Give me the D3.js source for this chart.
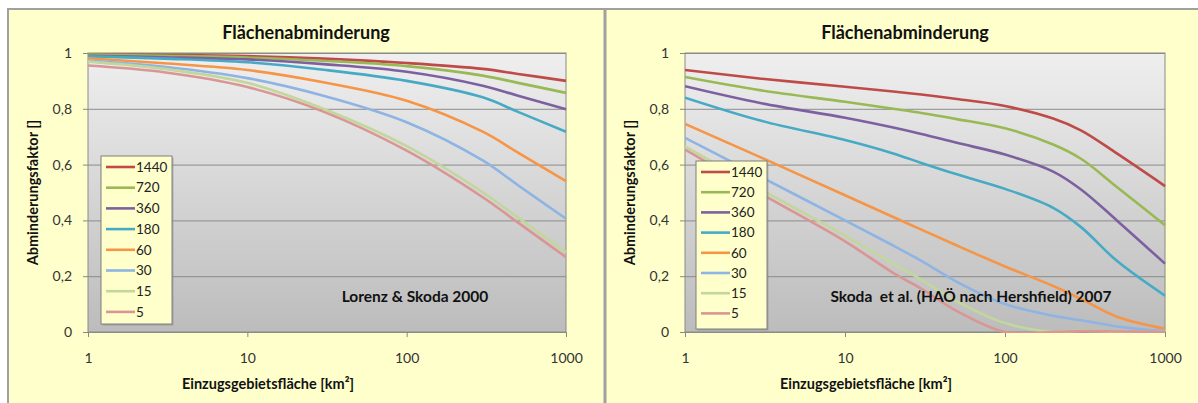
<!DOCTYPE html>
<html>
<head>
<meta charset="utf-8">
<script src="https://cdn.jsdelivr.net/npm/d3@7"></script>
<style>
  body { margin: 0; background: #fff; }
  svg { display: block; font-family: Lato, "Open Sans", sans-serif; }
  .title { font-weight: bold; font-size: 18px; fill: #111; }
  .axis-title { font-weight: bold; font-size: 14.5px; fill: #111; }
  .note { font-weight: bold; font-size: 15.5px; fill: #111; }
  .axis text { font-size: 14px; fill: #333; font-family: Lato, sans-serif; }
  .axis path, .axis line { stroke: #888; }
  .grid line { stroke: #8c8c8c; }
  .grid path { display: none; }
  .legend text { font-size: 13.5px; fill: #222; }
</style>
</head>
<body>
<div id="chart"></div>
<script>
// Dauerstufen (min) in legend order
const durations = ["1440", "720", "360", "180", "60", "30", "15", "5"];
const colors = ["#be4b48", "#98b954", "#7d60a0", "#46aac5", "#f69546", "#8eb4e3", "#c3d69b", "#d99694"];

const yTicks = [0, 0.2, 0.4, 0.6, 0.8, 1];
const xTicks = [1, 10, 100, 1000];

// Lorenz & Skoda 2000
const areasLorenz = [1, 3, 10, 30, 100, 300, 500, 1000];
const lorenz1440 = [0.995, 0.993, 0.989, 0.980, 0.964, 0.943, 0.925, 0.900];
const lorenz720  = [0.994, 0.990, 0.984, 0.972, 0.953, 0.919, 0.893, 0.857];
const lorenz360  = [0.990, 0.985, 0.977, 0.960, 0.933, 0.883, 0.847, 0.798];
const lorenz180  = [0.988, 0.980, 0.967, 0.940, 0.900, 0.841, 0.789, 0.718];
const lorenz60   = [0.981, 0.963, 0.939, 0.895, 0.829, 0.718, 0.643, 0.541];
const lorenz30   = [0.973, 0.951, 0.910, 0.847, 0.752, 0.615, 0.526, 0.406];
const lorenz15   = [0.969, 0.943, 0.893, 0.800, 0.666, 0.501, 0.410, 0.286];
const lorenz5    = [0.955, 0.931, 0.878, 0.790, 0.650, 0.483, 0.392, 0.268];

// Skoda et al. 2007
const areasSkoda = [1, 3, 10, 20, 30, 50, 100, 200, 300, 500, 1000];
const skoda1440 = [0.939, 0.908, 0.879, 0.862, 0.851, 0.835, 0.810, 0.765, 0.722, 0.640, 0.523];
const skoda720  = [0.914, 0.866, 0.825, 0.800, 0.785, 0.763, 0.730, 0.672, 0.620, 0.520, 0.383];
const skoda360  = [0.881, 0.820, 0.768, 0.733, 0.710, 0.678, 0.636, 0.575, 0.510, 0.400, 0.245];
const skoda180  = [0.840, 0.757, 0.688, 0.640, 0.606, 0.565, 0.513, 0.445, 0.375, 0.255, 0.130];
const skoda60   = [0.746, 0.625, 0.490, 0.412, 0.367, 0.310, 0.235, 0.165, 0.118, 0.055, 0.012];
const skoda30   = [0.696, 0.555, 0.400, 0.310, 0.255, 0.180, 0.100, 0.058, 0.042, 0.020, 0.003];
const skoda15   = [0.665, 0.510, 0.345, 0.245, 0.188, 0.110, 0.032, 0.000, 0.005, 0.001, 0.000];
const skoda5    = [0.654, 0.495, 0.325, 0.212, 0.155, 0.075, 0.000, 0.000, 0.003, 0.002, 0.000];

const svg = d3.select("#chart").append("svg")
  .attr("width", 1198)
  .attr("height", 403);

const defs = svg.append("defs");
const grad = defs.append("linearGradient")
  .attr("id", "plotbg").attr("x1", 0).attr("y1", 0).attr("x2", 0).attr("y2", 1);
grad.append("stop").attr("offset", "0%").attr("stop-color", "#efefef");
grad.append("stop").attr("offset", "100%").attr("stop-color", "#bcbcbc");

// panel backgrounds
svg.append("rect").attr("x", 8).attr("y", 9).attr("width", 1198).attr("height", 400)
  .attr("fill", "#ffffcc").attr("stroke", "#a0a0a0").attr("stroke-width", 2);
svg.append("line").attr("x1", 605).attr("x2", 605).attr("y1", 9).attr("y2", 403)
  .attr("stroke", "#a0a0a0").attr("stroke-width", 3);

function drawChart(cfg){
  const x = d3.scaleLog().domain([1, 1000]).range([cfg.left, cfg.right]);
  const y = d3.scaleLinear().domain([0, 1]).range([332, 53]);
  const g = svg.append("g");

  // clip for the series
  const clipId = "clip-" + cfg.id;
  defs.append("clipPath").attr("id", clipId).append("rect")
    .attr("x", cfg.left).attr("y", 50).attr("width", cfg.right - cfg.left + 2).attr("height", 283);

  g.append("rect")
    .attr("x", cfg.left).attr("y", y(1))
    .attr("width", cfg.right - cfg.left).attr("height", y(0) - y(1))
    .attr("fill", "url(#plotbg)");

  g.append("g").attr("class", "grid")
    .attr("transform", `translate(${cfg.left},0)`)
    .call(d3.axisLeft(y).tickValues(yTicks).tickSize(-(cfg.right - cfg.left)).tickFormat(""));

  g.append("rect")
    .attr("x", cfg.left).attr("y", y(1))
    .attr("width", cfg.right - cfg.left).attr("height", y(0) - y(1))
    .attr("fill", "none").attr("stroke", "#8a8a8a");

  g.append("g").attr("class", "axis")
    .attr("transform", `translate(${cfg.left},0)`)
    .call(d3.axisLeft(y).tickValues(yTicks).tickSize(5).tickPadding(11)
      .tickFormat(d => d3.format("~g")(d).replace(".", ",")))
    .call(s => s.select(".domain").remove());

  g.append("g").attr("class", "axis")
    .attr("transform", `translate(0,${y(0)})`)
    .call(d3.axisBottom(x).tickValues(xTicks).tickSize(5).tickPadding(16).tickFormat(d3.format("d")))
    .call(s => s.select(".domain").remove());

  const line = d3.line()
    .x(d => x(d[0]))
    .y(d => y(d[1]))
    .curve(d3.curveCatmullRom.alpha(0.5));

  const lines = g.append("g").attr("clip-path", `url(#${clipId})`);
  cfg.series.forEach((vals, i) => {
    lines.append("path")
      .datum(cfg.areas.map((a, j) => [a, vals[j]]))
      .attr("fill", "none")
      .attr("stroke", colors[i])
      .attr("stroke-width", 2.6)
      .attr("d", line);
  });

  g.append("text").attr("class", "title")
    .attr("x", cfg.titleX).attr("y", 39).attr("text-anchor", "middle")
    .text("Flächenabminderung");

  g.append("text").attr("class", "axis-title")
    .attr("x", cfg.xTitleX).attr("y", 389).attr("text-anchor", "middle")
    .text("Einzugsgebietsfläche [km²]");

  g.append("text").attr("class", "axis-title")
    .attr("transform", `translate(${cfg.left - 50},${(y(0) + y(1)) / 2}) rotate(-90)`)
    .attr("text-anchor", "middle")
    .text("Abminderungsfaktor []");

  g.append("text").attr("class", "note")
    .attr("x", cfg.noteX).attr("y", 302).attr("text-anchor", "middle")
    .attr("xml:space", "preserve")
    .text(cfg.note);

  // legend
  const lg = g.append("g").attr("class", "legend")
    .attr("transform", `translate(${cfg.legX},${cfg.legY})`);
  lg.append("rect").attr("x", 1.5).attr("y", 1.5).attr("width", 71).attr("height", 168)
    .attr("fill", "#8a8a8a").attr("opacity", 0.5);
  lg.append("rect").attr("width", 71).attr("height", 168)
    .attr("fill", "#ffffcc").attr("stroke", "#7f7f7f");
  durations.forEach((d, i) => {
    const yy = 11 + i * cfg.legStep;
    lg.append("line").attr("x1", 5).attr("x2", 34).attr("y1", yy).attr("y2", yy)
      .attr("stroke", colors[i]).attr("stroke-width", 2.6);
    lg.append("text").attr("x", 35).attr("y", yy).attr("dy", "0.35em").text(d);
  });
}

drawChart({
  id: "lorenz", left: 88, right: 566, titleX: 306, xTitleX: 268, noteX: 415,
  note: "Lorenz & Skoda 2000", legX: 101, legY: 156, legStep: 20.7,
  areas: areasLorenz,
  series: [lorenz1440, lorenz720, lorenz360, lorenz180, lorenz60, lorenz30, lorenz15, lorenz5]
});

drawChart({
  id: "skoda", left: 685, right: 1165, titleX: 905, xTitleX: 866, noteX: 971,
  note: "Skoda  et al. (HAÖ nach Hershfield) 2007", legX: 696, legY: 161, legStep: 20.2,
  areas: areasSkoda,
  series: [skoda1440, skoda720, skoda360, skoda180, skoda60, skoda30, skoda15, skoda5]
});
</script>
</body>
</html>
